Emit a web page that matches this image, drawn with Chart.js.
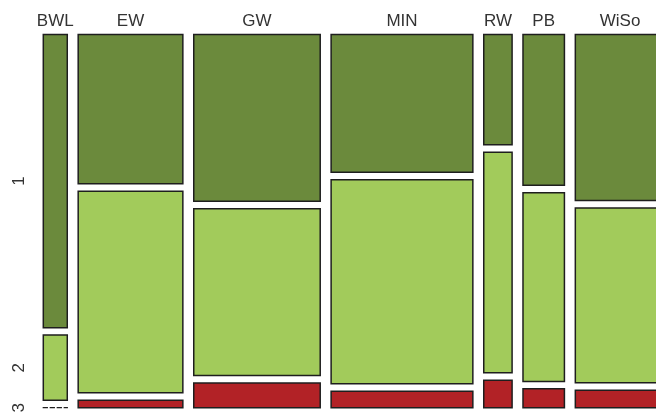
<!DOCTYPE html>
<html>
<head>
<meta charset="utf-8">
<script src="https://cdn.jsdelivr.net/npm/chart.js@4/dist/chart.umd.min.js"></script>
<style>
  html, body { margin: 0; padding: 0; background: #fff; }
  #wrap { width: 656px; height: 415px; }
</style>
</head>
<body>
<div id="wrap"><canvas id="myChart"></canvas></div>
<script>
// faculties across the top, answer levels down the side
var faculties = ["BWL", "EW", "GW", "MIN", "RW", "PB", "WiSo"];
var levels = ["1", "2", "3"];
// number of answers per faculty for each level
var level1 = [9, 20, 27, 25, 4, 8, 19];
var level2 = [2, 27, 27, 37, 8, 10, 20];
var level3 = [0, 1, 4, 3, 1, 1, 2];

var colors = ["#6b8a3c", "#a2cb5b", "#b22226"];
var gapX = 5;     // space between faculties, in answer units
var gapY = 0.02;  // space between levels, share of the height

// build one closed rectangle per cell of the mosaic
var counts = [level1, level2, level3];
var datasets = [];
var centers = [];
var levelCenters = [];
var xPos = 0;
for (var i = 0; i < faculties.length; i++) {
  var n = level1[i] + level2[i] + level3[i];
  var x0 = xPos, x1 = xPos + n;
  centers.push((x0 + x1) / 2);
  var yTop = 1;
  var avail = 1 - gapY * (levels.length - 1);
  for (var j = 0; j < levels.length; j++) {
    var h = avail * counts[j][i] / n;
    var yBot = yTop - h;
    if (i === 0) levelCenters.push((yTop + yBot) / 2);
    if (h > 0) {
      datasets.push({
        data: [{x: x0, y: yTop}, {x: x1, y: yTop}, {x: x1, y: yBot}, {x: x0, y: yBot}, {x: x0, y: yTop}],
        backgroundColor: colors[j],
        borderColor: "#1e1e1e",
        borderWidth: 1.5,
        fill: "shape"
      });
    } else {
      // empty cell: dashed line like in R
      datasets.push({
        data: [{x: x0, y: yTop}, {x: x1, y: yTop}],
        borderColor: "#1e1e1e",
        borderWidth: 1.3,
        borderDash: [4, 3],
        fill: false
      });
    }
    yTop = yBot - gapY;
  }
  xPos = x1 + gapX;
}
datasets.forEach(function (d) {
  d.showLine = true;
  d.pointRadius = 0;
  d.tension = 0;
  d.borderJoinStyle = "miter";
  d.borderCapStyle = "square";
  d.clip = {left: 4, top: 4, right: 0, bottom: 4};
});

var font = {family: "'Liberation Sans', Arial, sans-serif", size: 17};

var ctx = document.getElementById("myChart").getContext("2d");
var chart = new Chart(ctx, {
  type: "scatter",
  data: { datasets: datasets },
  options: {
    responsive: true,
    maintainAspectRatio: false,
    animation: false,
    layout: { padding: { top: 0, right: 0, bottom: 7.3, left: 0 } },
    plugins: { legend: { display: false }, tooltip: { enabled: false } },
    scales: {
      x: {
        type: "linear",
        position: "top",
        min: 0,
        max: 281,
        grid: { display: false, drawTicks: false },
        border: { display: false },
        afterBuildTicks: function (s) {
          s.ticks = centers.map(function (v) { return {value: v}; });
        },
        afterFit: function (s) {
          s.height = 34.5;
          s.paddingLeft = 0;
          s.paddingRight = 0;
        },
        ticks: {
          autoSkip: false,
          maxRotation: 0,
          padding: 3,
          color: "#333",
          font: font,
          callback: function (v, i) { return faculties[i]; }
        }
      },
      y: {
        type: "linear",
        min: 0,
        max: 1,
        grid: { display: false, drawTicks: false },
        border: { display: false },
        afterBuildTicks: function (s) {
          s.ticks = levelCenters.map(function (v) { return {value: v}; });
        },
        afterFit: function (s) {
          s.width = 43.3;
          s.paddingTop = 0;
          s.paddingBottom = 0;
        },
        ticks: {
          autoSkip: false,
          minRotation: 90,
          maxRotation: 90,
          crossAlign: "center",
          padding: 19,
          color: "#333",
          font: font,
          callback: function (v, i) { return levels[i]; }
        }
      }
    }
  }
});
</script>
</body>
</html>
